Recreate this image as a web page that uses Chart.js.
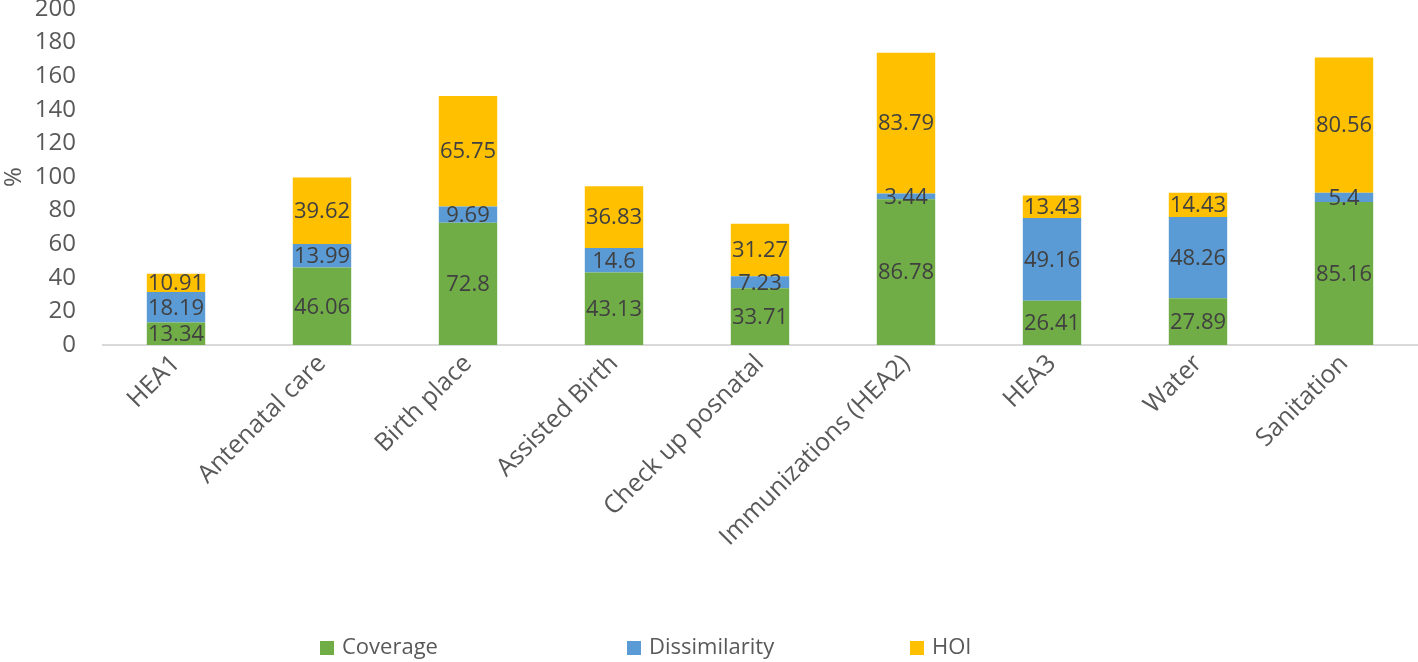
<!DOCTYPE html>
<html>
<head>
<meta charset="utf-8">
<script src="https://cdn.jsdelivr.net/npm/chart.js@4/dist/chart.umd.min.js"></script>
<style>
  html, body { margin: 0; padding: 0; background: #fff; }
  #wrap { width: 1418px; height: 662px; position: relative; }
</style>
</head>
<body>
<div id="wrap"><canvas id="chart"></canvas></div>
<script>
// -------------------- DATA --------------------
const categories = ['HEA1', 'Antenatal care', 'Birth place', 'Assisted Birth', 'Check up posnatal',
    'Immunizations (HEA2)', 'HEA3', 'Water', 'Sanitation'];
const coverage = [13.34, 46.06, 72.8, 43.13, 33.71, 86.78, 26.41, 27.89, 85.16];
const dissimilarity = [18.19, 13.99, 9.69, 14.6, 7.23, 3.44, 49.16, 48.26, 5.4];
const hoi = [10.91, 39.62, 65.75, 36.83, 31.27, 83.79, 13.43, 14.43, 80.56];
const yTicks = [0, 20, 40, 60, 80, 100, 120, 140, 160, 180, 200];

const FONT = "'Open Sans', sans-serif";
const TEXT_GRAY = '#595959';

// -------------------- DATA LABELS (inline plugin) --------------------
const barLabels = {
    id: 'barLabels',
    afterDatasetsDraw(chart) {
        const ctx = chart.ctx;
        ctx.save();
        ctx.font = '22px ' + FONT;
        ctx.fillStyle = '#404040';
        ctx.textAlign = 'center';
        ctx.textBaseline = 'middle';
        chart.data.datasets.forEach((ds, i) => {
            const meta = chart.getDatasetMeta(i);
            meta.data.forEach((bar, j) => {
                const y = (bar.y + bar.base) / 2;
                ctx.fillText(String(ds.data[j]), bar.x, y + 1);
            });
        });
        ctx.restore();
    }
};

// -------------------- LEGEND (Excel-like fixed slots) --------------------
const slotLegend = {
    id: 'slotLegend',
    afterDraw(chart) {
        const ctx = chart.ctx;
        const slots = [320, 627, 910];
        const y = 648;
        ctx.save();
        ctx.font = '22px ' + FONT;
        ctx.textBaseline = 'middle';
        ctx.textAlign = 'left';
        chart.data.datasets.forEach((ds, i) => {
            const x = slots[i];
            ctx.fillStyle = ds.backgroundColor;
            ctx.fillRect(x, y - 7, 14, 14);
            ctx.fillStyle = TEXT_GRAY;
            ctx.fillText(ds.label, x + 22, y);
        });
        ctx.restore();
    }
};

// -------------------- CHART --------------------
new Chart(document.getElementById('chart'), {
    type: 'bar',
    data: {
        labels: categories,
        datasets: [
            { label: 'Coverage', data: coverage, backgroundColor: '#70AD47' },
            { label: 'Dissimilarity', data: dissimilarity, backgroundColor: '#5B9BD5' },
            { label: 'HOI', data: hoi, backgroundColor: '#FFC000' }
        ]
    },
    options: {
        responsive: true,
        maintainAspectRatio: false,
        animation: false,
        layout: { padding: { top: 9, right: 1, bottom: 45, left: 0 } },
        datasets: { bar: { categoryPercentage: 1, barPercentage: 0.4 } },
        plugins: {
            tooltip: { enabled: false },
            legend: { display: false }
        },
        scales: {
            x: {
                stacked: true,
                grid: { display: false, drawTicks: false },
                border: { color: '#d9d9d9', width: 2 },
                ticks: {
                    color: TEXT_GRAY,
                    font: { family: FONT, size: 25 },
                    minRotation: 45,
                    maxRotation: 45,
                    autoSkip: false,
                    padding: 4
                },
                afterFit(scale) {
                    scale.height = 272;
                    scale.paddingLeft = 0;
                    scale.paddingRight = 0;
                }
            },
            y: {
                stacked: true,
                min: 0,
                max: 200,
                grid: { display: false, drawTicks: false },
                border: { display: false },
                afterBuildTicks(scale) { scale.ticks = yTicks.map(v => ({ value: v })); },
                ticks: {
                    color: TEXT_GRAY,
                    font: { family: FONT, size: 24 },
                    autoSkip: false,
                    padding: 27
                },
                title: {
                    display: true,
                    text: '%',
                    color: TEXT_GRAY,
                    font: { family: FONT, size: 24 },
                    padding: 0
                },
                afterFit(scale) {
                    scale.width = 103;
                    scale.paddingTop = 0;
                    scale.paddingBottom = 0;
                }
            }
        }
    },
    plugins: [barLabels, slotLegend]
});
</script>
</body>
</html>
